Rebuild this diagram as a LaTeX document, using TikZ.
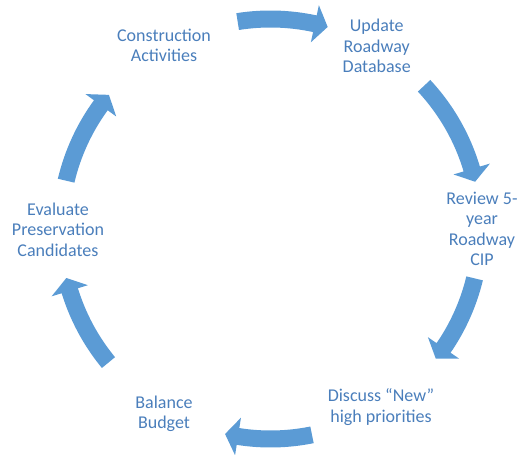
\documentclass[tikz,border=0pt]{standalone}
\usepackage{fontspec}
\setmainfont{Carlito}
\definecolor{arrowblue}{HTML}{5B9BD5}
\definecolor{textblue}{HTML}{4A7EBB}
\begin{document}
\begin{tikzpicture}[x=1pt,y=1pt,
  lbl/.style={align=center, text=textblue, font=\fontsize{18}{20.5}\selectfont, inner sep=0pt},
  cyclearrow/.style={fill=arrowblue, draw=none}]
\useasboundingbox (0,0) rectangle (522,455);
\coordinate (C) at (270.5,226);
\node[lbl] (constr) at (164,409.5) {Construction\\Activities};
\node[lbl] (update) at (376.7,409) {Update\\Roadway\\Database};
\node[lbl] (review) at (482,226) {Review 5-\\year\\Roadway\\CIP};
\node[lbl] (discuss) at (381,48) {Discuss “New”\\high priorities};
\node[lbl] (balance) at (164,41) {Balance\\Budget};
\node[lbl] (evaluate) at (58,225.5) {Evaluate\\Preservation\\Candidates};
\begin{scope}[shift={(C)}]
\foreach \angA/\angP in {99/74.2, 43/13, -13.6/-38.1, -78.6/-102.5, -140.5/-166.5, 166.7/140.3} {
  \pgfmathsetmacro{\angB}{\angP+3.6}
  \fill[cyclearrow] (\angA:218.5pt) arc[start angle=\angA, end angle=\angB, radius=218.5pt]
    -- (\angB:229pt) -- (\angP:210pt) -- (\angB:191pt) -- (\angB:201.5pt)
    arc[start angle=\angB, end angle=\angA, radius=201.5pt] -- cycle;
}
\end{scope}
\end{tikzpicture}
\end{document}
